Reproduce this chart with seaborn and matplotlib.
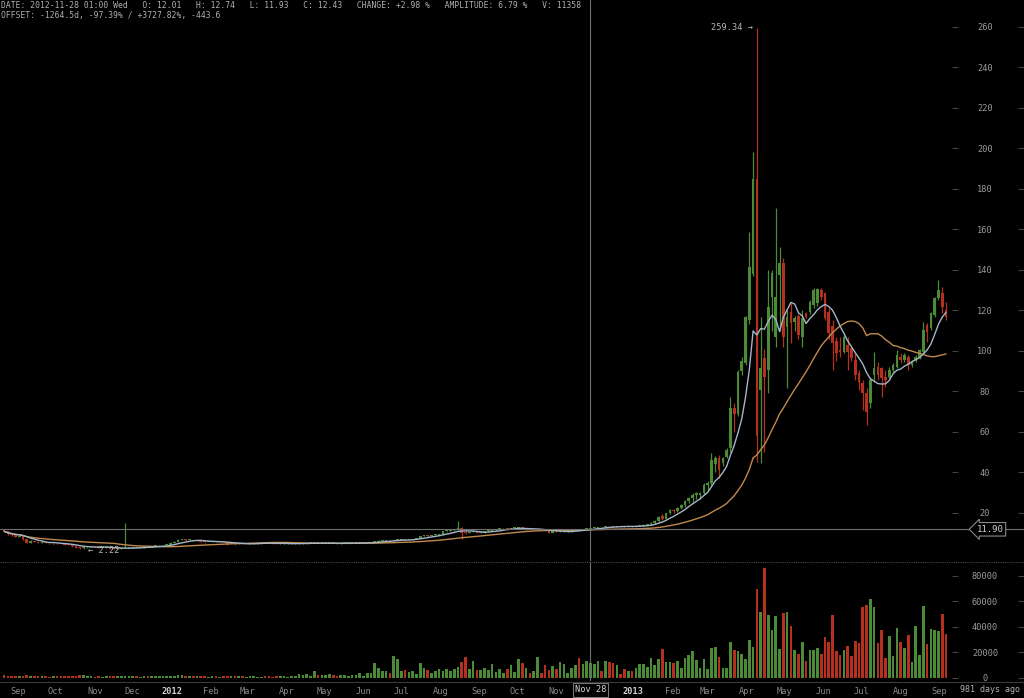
import numpy as np
import pandas as pd
import matplotlib
matplotlib.use("Agg")
import matplotlib.pyplot as plt
import matplotlib.transforms as mtransforms
from matplotlib.lines import Line2D
import seaborn as sns

# 3-day candles, BTC/USD, 2011-08-21 .. 2013-09-08
start = "2011-08-21"

opens = [
    11.2, 10.9, 9.5, 8.9, 8.2, 8.4, 7.0, 5.0, 6.0, 5.6,
    5.3, 5.6, 5.2, 4.9, 5.0, 4.9, 4.6, 4.2, 4.1, 3.6,
    2.9, 2.6, 3.0, 3.1, 3.3, 3.2, 3.0, 3.0, 3.0, 2.4,
    2.3, 2.4, 2.5, 2.6, 2.8, 3.1, 2.9, 3.0, 3.3, 3.2,
    3.2, 3.9, 3.9, 4.1, 4.2, 5.2, 5.6, 6.8, 6.8, 6.6,
    6.6, 6.3, 6.3, 5.6, 5.5, 5.6, 6.0, 5.7, 5.9, 5.5,
    4.5, 4.6, 4.4, 4.9, 4.8, 4.9, 4.9, 4.9, 4.9, 5.3,
    5.2, 5.0, 4.8, 4.6, 4.8, 4.9, 4.9, 4.9, 4.9, 4.9,
    4.9, 5.1, 5.1, 5.1, 5.0, 5.0, 5.1, 5.1, 5.0, 4.9,
    5.0, 5.1, 5.1, 5.1, 5.1, 5.2, 5.2, 5.4, 5.6, 5.6,
    6.3, 6.3, 6.6, 6.4, 6.5, 6.6, 6.8, 6.7, 6.9, 7.2,
    7.6, 8.6, 8.8, 8.5, 8.9, 9.1, 9.4, 10.9, 11.0, 11.5,
    11.6, 12.6, 10.2, 10.0, 10.6, 10.9, 10.1, 10.3, 11.0, 11.0,
    11.4, 11.8, 12.3, 12.4, 12.2, 12.4, 12.4, 12.8, 11.9, 11.9,
    11.8, 11.8, 11.8, 11.6, 11.0, 10.3, 10.9, 10.6, 10.8, 10.9,
    10.9, 11.1, 11.8, 11.6, 12.0, 12.01, 12.43, 12.6, 13.0, 12.8,
    13.5, 13.3, 13.2, 13.4, 13.3, 13.2, 13.4, 13.3, 13.5, 13.7,
    14.1, 14.3, 15.0, 16.0, 18.5, 17.2, 19.8, 21.5, 20.8, 22.5,
    23.9, 26.0, 27.5, 29.0, 28.8, 29.7, 34.0, 34.6, 44.0, 47.0,
    44.5, 47.7, 52.0, 72.0, 69.0, 90.0, 94.0, 115.0, 138.0, 185.0,
    80.6, 96.2, 90.5, 126.7, 106.9, 137.4, 143.2, 111.9, 119.3, 114.0,
    117.0, 107.0, 118.5, 119.3, 122.6, 123.4, 130.0, 128.4, 119.3, 112.0,
    105.0, 100.4, 99.6, 102.9, 101.2, 95.4, 88.9, 83.9, 79.0, 74.0,
    88.0, 92.1, 91.3, 87.0, 87.2, 90.5, 92.1, 97.1, 95.4, 97.1,
    93.0, 95.4, 96.3, 99.6, 112.7, 111.1, 117.7, 125.9, 128.4, 120.2,
]

highs = [
    11.5, 11.0, 10.0, 9.2, 8.8, 8.6, 7.2, 6.4, 6.2, 5.8,
    5.9, 5.7, 5.3, 5.2, 5.1, 5.0, 4.7, 4.3, 4.2, 3.7,
    3.0, 3.2, 3.3, 3.5, 3.4, 3.3, 3.2, 3.2, 3.1, 2.6,
    2.6, 2.7, 15.0, 3.0, 3.2, 3.2, 3.1, 3.4, 3.4, 3.3,
    4.0, 4.1, 4.3, 4.4, 5.4, 5.9, 7.0, 7.2, 7.0, 6.8,
    6.7, 6.5, 6.4, 5.8, 5.8, 6.1, 6.1, 6.0, 6.0, 5.6,
    4.8, 4.7, 5.0, 5.0, 5.0, 5.0, 5.0, 5.0, 5.4, 5.4,
    5.3, 5.1, 4.9, 4.9, 5.0, 5.0, 5.0, 5.0, 5.0, 5.0,
    5.2, 5.2, 5.2, 5.2, 5.1, 5.2, 5.2, 5.2, 5.1, 5.1,
    5.2, 5.2, 5.2, 5.2, 5.3, 5.3, 5.5, 5.7, 5.8, 6.5,
    6.6, 6.8, 6.7, 6.6, 6.7, 6.9, 6.9, 7.0, 7.3, 7.8,
    8.8, 9.0, 9.0, 9.0, 9.2, 9.6, 11.1, 11.3, 11.8, 12.0,
    15.9, 12.8, 10.5, 10.8, 11.1, 11.0, 10.5, 11.2, 11.2, 11.6,
    11.9, 12.4, 12.5, 12.5, 12.5, 12.6, 12.9, 12.9, 12.1, 12.0,
    12.0, 11.9, 11.9, 11.7, 11.2, 11.0, 11.0, 10.9, 11.0, 11.0,
    11.2, 11.9, 11.9, 12.1, 12.2, 12.74, 12.7, 13.2, 13.1, 13.6,
    13.6, 13.4, 13.5, 13.5, 13.4, 13.5, 13.5, 13.6, 13.8, 14.3,
    14.6, 15.3, 16.3, 18.3, 19.2, 20.0, 21.8, 22.0, 23.0, 24.5,
    26.4, 28.0, 29.7, 30.5, 30.5, 34.6, 35.5, 49.4, 48.0, 48.6,
    47.7, 52.0, 77.0, 74.0, 90.5, 97.0, 117.0, 158.8, 198.3, 259.34,
    116.8, 101.0, 140.0, 140.0, 170.3, 151.4, 145.6, 120.0, 123.4, 117.0,
    118.0, 120.0, 119.0, 125.0, 131.0, 131.0, 131.0, 129.0, 121.0, 115.0,
    107.0, 107.0, 107.8, 107.0, 102.0, 98.7, 90.5, 85.6, 81.5, 86.4,
    99.6, 94.6, 92.1, 90.5, 92.1, 93.8, 100.4, 98.7, 98.7, 97.9,
    95.4, 97.9, 100.8, 114.4, 113.6, 119.3, 126.7, 134.9, 131.6, 124.3,
]

lows = [
    10.7, 9.3, 8.7, 8.0, 7.9, 6.8, 4.9, 4.9, 5.4, 5.1,
    5.2, 5.0, 4.7, 4.8, 4.7, 4.4, 4.0, 3.9, 3.4, 2.7,
    2.4, 2.22, 2.9, 3.0, 3.1, 2.9, 2.9, 2.8, 2.3, 2.25,
    2.3, 2.4, 2.5, 2.6, 2.7, 2.8, 2.8, 2.9, 3.1, 3.1,
    3.1, 3.7, 3.8, 4.0, 4.1, 5.0, 5.5, 6.5, 6.3, 6.4,
    6.1, 6.1, 5.5, 5.3, 5.4, 5.5, 5.6, 5.6, 5.4, 4.3,
    4.4, 4.3, 4.4, 4.7, 4.7, 4.8, 4.8, 4.8, 4.8, 5.1,
    4.9, 4.7, 4.5, 4.5, 4.7, 4.8, 4.8, 4.8, 4.8, 4.8,
    4.8, 5.0, 5.0, 4.9, 4.9, 4.9, 5.0, 4.9, 4.8, 4.8,
    4.9, 5.0, 5.0, 5.0, 5.0, 5.1, 5.1, 5.3, 5.5, 5.5,
    6.1, 6.2, 6.3, 6.3, 6.4, 6.5, 6.6, 6.6, 6.8, 7.1,
    7.5, 8.4, 8.3, 8.4, 8.8, 9.0, 9.3, 10.6, 10.9, 11.3,
    11.5, 7.1, 9.8, 9.9, 10.4, 10.0, 9.9, 10.2, 10.8, 10.9,
    11.3, 11.7, 12.1, 12.0, 12.1, 12.2, 12.3, 11.8, 11.7, 11.7,
    11.6, 11.7, 11.5, 10.9, 10.0, 10.2, 10.5, 10.5, 10.7, 10.8,
    10.8, 11.0, 11.5, 11.5, 11.9, 11.93, 12.3, 12.5, 12.6, 12.7,
    13.2, 13.0, 13.1, 13.2, 13.1, 13.1, 13.2, 13.2, 13.4, 13.5,
    13.9, 13.8, 14.5, 15.7, 16.5, 17.0, 19.5, 20.0, 20.6, 22.0,
    23.0, 24.7, 25.6, 27.0, 27.0, 29.0, 31.0, 33.7, 40.0, 37.0,
    43.0, 47.0, 50.0, 60.0, 68.0, 88.0, 93.0, 113.0, 137.0, 45.0,
    44.4, 50.0, 79.0, 110.0, 102.0, 110.0, 102.0, 81.5, 103.6, 110.0,
    106.0, 102.0, 116.0, 118.0, 121.0, 122.0, 125.0, 115.0, 106.0, 90.5,
    95.0, 97.0, 98.7, 90.5, 95.0, 85.6, 80.6, 70.8, 63.4, 71.6,
    84.8, 85.6, 77.4, 82.3, 86.4, 88.9, 91.3, 93.8, 94.6, 90.5,
    92.1, 94.6, 96.0, 98.7, 104.5, 110.3, 116.9, 125.1, 118.5, 115.2,
]

closes = [
    10.9, 9.5, 8.9, 8.2, 8.4, 7.0, 5.0, 6.0, 5.6, 5.3,
    5.6, 5.2, 4.9, 5.0, 4.9, 4.6, 4.2, 4.1, 3.6, 2.9,
    2.6, 3.0, 3.1, 3.3, 3.2, 3.0, 3.0, 3.0, 2.4, 2.3,
    2.4, 2.5, 2.6, 2.8, 3.1, 2.9, 3.0, 3.3, 3.2, 3.2,
    3.9, 3.9, 4.1, 4.2, 5.2, 5.6, 6.8, 6.8, 6.6, 6.6,
    6.3, 6.3, 5.6, 5.5, 5.6, 6.0, 5.7, 5.9, 5.5, 4.5,
    4.6, 4.4, 4.9, 4.8, 4.9, 4.9, 4.9, 4.9, 5.3, 5.2,
    5.0, 4.8, 4.6, 4.8, 4.9, 4.9, 4.9, 4.9, 4.9, 4.9,
    5.1, 5.1, 5.1, 5.0, 5.0, 5.1, 5.1, 5.0, 4.9, 5.0,
    5.1, 5.1, 5.1, 5.1, 5.2, 5.2, 5.4, 5.6, 5.6, 6.3,
    6.3, 6.6, 6.4, 6.5, 6.6, 6.8, 6.7, 6.9, 7.2, 7.6,
    8.6, 8.8, 8.5, 8.9, 9.1, 9.4, 10.9, 11.0, 11.5, 11.6,
    12.6, 10.2, 10.0, 10.6, 10.9, 10.1, 10.3, 11.0, 11.0, 11.4,
    11.8, 12.3, 12.4, 12.2, 12.4, 12.4, 12.8, 11.9, 11.9, 11.8,
    11.8, 11.8, 11.6, 11.0, 10.3, 10.9, 10.6, 10.8, 10.9, 10.9,
    11.1, 11.8, 11.6, 12.0, 12.01, 12.43, 12.6, 13.0, 12.8, 13.5,
    13.3, 13.2, 13.4, 13.3, 13.2, 13.4, 13.3, 13.5, 13.7, 14.1,
    14.3, 15.0, 16.0, 17.8, 17.2, 19.8, 21.3, 20.8, 22.5, 23.9,
    26.0, 27.5, 29.0, 30.0, 29.7, 34.0, 34.6, 46.0, 47.0, 41.0,
    47.0, 51.0, 72.0, 69.0, 89.5, 95.0, 116.5, 141.5, 185.0, 58.0,
    91.3, 87.2, 121.8, 138.2, 126.7, 143.2, 106.9, 116.8, 113.5, 116.0,
    108.0, 116.0, 116.8, 124.3, 130.0, 130.4, 126.7, 116.0, 108.6, 104.0,
    99.0, 99.6, 107.0, 99.6, 96.3, 88.0, 84.8, 79.0, 69.9, 85.6,
    91.3, 88.0, 86.4, 85.6, 90.5, 93.0, 97.9, 95.4, 97.9, 93.0,
    94.6, 97.1, 100.4, 110.3, 109.4, 118.5, 125.9, 130.0, 121.8, 116.9,
]

volumes = [
    1800, 1500, 1300, 1600, 1200, 1400, 1900, 1500, 1100, 1000,
    900, 1200, 800, 1000, 1100, 900, 1300, 1000, 1200, 1600,
    1800, 2000, 1200, 900, 800, 1000, 700, 900, 1400, 1500,
    1100, 1000, 1500, 1200, 900, 1000, 800, 1100, 900, 1000,
    1400, 1300, 1100, 1000, 1600, 1500, 1900, 1700, 1300, 1100,
    1000, 900, 1200, 1000, 800, 900, 1000, 800, 900, 1400,
    1300, 1200, 1100, 900, 800, 900, 1000, 800, 700, 1000,
    900, 800, 1100, 1000, 900, 800, 1000, 1200, 2600, 2000,
    2600, 1500, 5500, 2000, 2000, 1800, 2600, 2000, 1500, 2000,
    2000, 1500, 2000, 1800, 3500, 1300, 3500, 3500, 11300, 7800,
    4900, 4900, 3500, 17100, 14500, 4900, 5800, 4600, 5500, 2600,
    11300, 7250, 5800, 3500, 4900, 6400, 4900, 6400, 4900, 7000,
    8700, 12200, 16000, 7000, 13300, 5800, 5800, 7250, 5800, 10700,
    4350, 6400, 4000, 6400, 9900, 4350, 14500, 11300, 7800, 4000,
    4900, 16000, 3500, 10150, 5800, 9300, 6400, 12200, 10700, 3500,
    7250, 9900, 15000, 10700, 13000, 11358, 10700, 13000, 5180, 13300,
    12500, 11700, 9630, 2900, 6560, 5520, 5520, 7870, 10750, 10750,
    8650, 15450, 10230, 14400, 22500, 12500, 12000, 11700, 13040, 7300,
    15450, 18100, 20960, 13800, 7300, 14900, 7000, 23260, 24300, 16000,
    7870, 7870, 27940, 21700, 20960, 18350, 14700, 29770, 23760, 69300,
    51750, 85800, 49150, 37640, 48630, 22480, 50970, 51750, 40500, 21950,
    18820, 27940, 13040, 21430, 21950, 23000, 18560, 31870, 27940, 49150,
    20700, 17820, 21430, 24800, 16960, 28480, 27180, 55170, 57000, 61700,
    55170, 27200, 37370, 15390, 32660, 17270, 39250, 27710, 23240, 33210,
    12480, 40510, 17740, 55970, 26120, 37900, 37370, 36850, 49930, 34230,
]

price_ticks = [20, 40, 60, 80, 100, 120, 140, 160, 180, 200, 220, 240, 260]
volume_ticks = [0, 20000, 40000, 60000, 80000]
cross_date = "2012-11-28"
cross_price = 11.90

header1 = ("DATE: 2012-11-28 01:00 Wed   O: 12.01   H: 12.74   L: 11.93   C: 12.43   "
           "CHANGE: +2.98 %   AMPLITUDE: 6.79 %   V: 11358")
header2 = "OFFSET: -1264.5d, -97.39% / +3727.82%, -443.6"

df = pd.DataFrame({"open": opens, "high": highs, "low": lows,
                   "close": closes, "volume": volumes})
df["date"] = pd.date_range(start, periods=len(df), freq="3D")
df["ma_fast"] = df["close"].rolling(7, min_periods=1).mean()
df["ma_slow"] = df["close"].rolling(30, min_periods=1).mean()

GREEN = "#4b8b36"
RED = "#b5301f"
TXT = "#9a9a9a"
df["color"] = np.where(df["close"] >= df["open"], GREEN, RED)

sns.set_theme(style="dark", rc={
    "figure.facecolor": "black", "axes.facecolor": "black",
    "axes.edgecolor": "black", "text.color": TXT,
    "xtick.color": TXT, "ytick.color": TXT,
})
plt.rcParams["font.family"] = ["DejaVu Sans Mono"]

W, H = 1024, 698
fig = plt.figure(figsize=(W / 100, H / 100), dpi=100)
ax = fig.add_axes([0, 1 - 561 / H, 958 / W, 561 / H])
axv = fig.add_axes([0, 1 - 681 / H, 958 / W, 119 / H], sharex=ax)

# candles
body_w = 2.1
ax.vlines(df["date"], df["low"], df["high"], colors=df["color"], lw=0.9)
ax.bar(df["date"], np.maximum((df["close"] - df["open"]).abs(), 0.45),
       bottom=np.minimum(df["open"], df["close"]), width=body_w,
       color=df["color"], linewidth=0)
sns.lineplot(data=df, x="date", y="ma_slow", ax=ax, color="#c08a4c", lw=1.0)
sns.lineplot(data=df, x="date", y="ma_fast", ax=ax, color="#a4b6c8", lw=1.0)

# volume
axv.bar(df["date"], df["volume"], width=body_w, color=df["color"], linewidth=0)

x0 = pd.Timestamp(start) - pd.Timedelta(days=3.25)
x1 = pd.Timestamp(start) + pd.Timedelta(days=756.5)
ax.set_xlim(x0, x1)
ax.set_ylim(-3.75, 273.1)
axv.set_ylim(-2670, 90750)

for a, ticks in ((ax, price_ticks), (axv, volume_ticks)):
    a.yaxis.tick_right()
    a.set_yticks(ticks)
    a.set_yticklabels([str(t) for t in ticks])
    a.tick_params(axis="y", direction="in", length=4, width=0.8, color="#444",
                  pad=19.5, labelsize=6.2, labelcolor=TXT)
    for lab in a.get_yticklabels():
        lab.set_horizontalalignment("center")
    # far-right tick dashes
    sec = a.secondary_yaxis(W / 958)
    sec.set_yticks(ticks)
    sec.set_yticklabels([])
    sec.tick_params(axis="y", direction="in", length=4, width=0.8, color="#444")
    sec.spines["right"].set_visible(False)
    a.set_xlabel("")
    a.set_ylabel("")
    a.grid(False)
    for s in a.spines.values():
        s.set_visible(False)
ax.tick_params(axis="x", bottom=False, labelbottom=False)

# month axis (the Dec 2012 label sits under the crosshair box)
months = pd.date_range("2011-09-01", "2013-09-01", freq="MS")
cd = pd.Timestamp(cross_date)
month_labels = []
for m in months:
    if abs((m - cd).days) < 10:
        month_labels.append("")
    elif m.month == 1:
        month_labels.append(m.strftime("%Y"))
    else:
        month_labels.append(m.strftime("%b"))
axv.set_xticks(months)
axv.set_xticklabels(month_labels)
axv.tick_params(axis="x", direction="out", length=2, width=0.6, color="#555",
                pad=2.5, labelsize=6.2, labelcolor="#8a8a8a")
for m, lab in zip(months, axv.get_xticklabels()):
    if m.month == 1:
        lab.set_color("#d0d0d0")
        lab.set_fontweight("bold")

# crosshair
for a in (ax, axv):
    a.axvline(cd, color="#6e6e6e", lw=0.8, zorder=5)
ax.axhline(cross_price, color="#6e6e6e", lw=0.8, zorder=5)
tr = mtransforms.blended_transform_factory(ax.transAxes, ax.transData)
ax.plot([1, W / 958], [cross_price, cross_price], transform=tr, clip_on=False,
        color="#6e6e6e", lw=0.8)
ax.text(990 / 958, cross_price, "11.90", transform=tr, ha="center", va="center",
        fontsize=6.5, color="#d0d0d0", zorder=6, clip_on=False,
        bbox=dict(boxstyle="larrow,pad=0.25", fc="black", ec="#8a8a8a", lw=0.8))
trv = mtransforms.blended_transform_factory(axv.transData, axv.transAxes)
axv.text(cd, -9 / 119, "Nov 28", transform=trv, ha="center", va="center",
         fontsize=6.2, color="#d8d8d8", clip_on=False, zorder=6,
         bbox=dict(boxstyle="square,pad=0.25", fc="black", ec="#777777", lw=0.8))

# extremes
hi = df["high"].idxmax()
lo = df["low"].idxmin()
ax.annotate(f"{df['high'][hi]:.2f} \u2192", xy=(df["date"][hi], df["high"][hi]),
            xytext=(-3, 0), textcoords="offset points", ha="right", va="center",
            fontsize=6.2, color="#b8b8b8")
ax.annotate(f"\u2190 {df['low'][lo]:.2f}", xy=(df["date"][lo], df["low"][lo]),
            xytext=(3, -1), textcoords="offset points", ha="left", va="center",
            fontsize=6.2, color="#b8b8b8")

# panel separators
fig.add_artist(Line2D([0, 1], [1 - 561.5 / H] * 2, transform=fig.transFigure,
                      color="#4a4a4a", lw=0.8, ls=(0, (1, 1))))
fig.add_artist(Line2D([0, 1], [1 - 681.5 / H] * 2, transform=fig.transFigure,
                      color="#3a3a3a", lw=0.8))

fig.text(1 / W, 1 - 6 / H, header1, ha="left", va="center", fontsize=5.8, color="#b0b0b0")
fig.text(1 / W, 1 - 15.5 / H, header2, ha="left", va="center", fontsize=5.8, color="#b0b0b0")
fig.text(990 / W, 1 - 690 / H, "981 days ago", ha="center", va="center",
         fontsize=6, color="#b0b0b0")

fig.savefig("out.png", dpi=100, facecolor="black")
